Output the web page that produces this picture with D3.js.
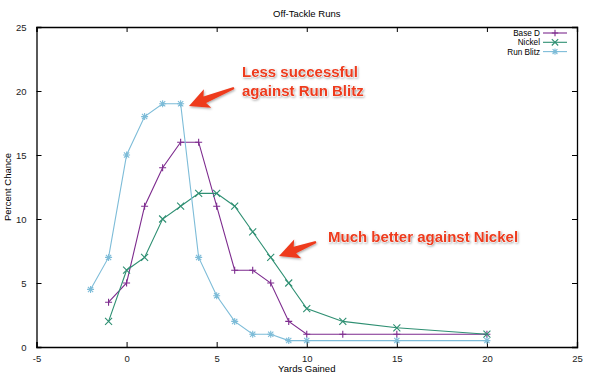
<!DOCTYPE html>
<html>
<head>
<meta charset="utf-8">
<script src="https://cdn.jsdelivr.net/npm/d3@7"></script>
<style>
  body { margin: 0; background: #fff; }
  text { font-family: "Liberation Sans", Arial, sans-serif; }
</style>
</head>
<body>
<div id="chart"></div>
<script>
// data
const yards = [-1, 0, 1, 2, 3, 4, 5, 6, 7, 8, 9, 10, 12, 15, 20];
const baseD = [3.5, 5, 11, 14, 16, 16, 11, 6, 6, 5, 2, 1, 1, 1, 1];
const nickel = [2, 6, 7, 10, 11, 12, 12, 11, 9, 7, 5, 3, 2, 1.5, 1];
const blitzYards = [-2, -1, 0, 1, 2, 3, 4, 5, 6, 7, 8, 9, 10, 15, 20];
const runBlitz = [4.5, 7, 15, 18, 19, 19, 7, 4, 2, 1, 1, 0.5, 0.5, 0.5, 0.5];
const seriesNames = ['Base D', 'Nickel', 'Run Blitz'];
const xTicks = [-5, 0, 5, 10, 15, 20, 25];
const yTicks = [0, 5, 10, 15, 20, 25];

const width = 601, height = 386;
const margin = {top: 27, right: 24, bottom: 39, left: 36.5};
const w = width - margin.left - margin.right;
const h = height - margin.top - margin.bottom;

const series = [
  {name: seriesNames[0], xs: yards, ys: baseD, color: '#7d2b8e', marker: 'plus'},
  {name: seriesNames[1], xs: yards, ys: nickel, color: '#2e8f72', marker: 'cross'},
  {name: seriesNames[2], xs: blitzYards, ys: runBlitz, color: '#7dbcd8', marker: 'star'}
];

const svg = d3.select('#chart').append('svg')
  .attr('width', width)
  .attr('height', height);

const x = d3.scaleLinear().domain([-5, 25]).range([0, w]);
const y = d3.scaleLinear().domain([0, 25]).range([h, 0]);

const g = svg.append('g')
  .attr('transform', `translate(${margin.left},${margin.top})`);

// axes, gnuplot style: ticks pointing inward, mirrored
const tickLen = 5;
const plain = d => String(d);
g.append('g')
  .attr('transform', `translate(0,${h})`)
  .call(d3.axisBottom(x).tickValues(xTicks).tickSize(-tickLen).tickPadding(8).tickFormat(plain));
g.append('g')
  .call(d3.axisTop(x).tickValues(xTicks).tickSize(-tickLen).tickFormat(''));
g.append('g')
  .call(d3.axisLeft(y).tickValues(yTicks).tickSize(-tickLen).tickPadding(10).tickFormat(plain));
g.append('g')
  .attr('transform', `translate(${w},0)`)
  .call(d3.axisRight(y).tickValues(yTicks).tickSize(-tickLen).tickFormat(''));

g.selectAll('.domain').attr('stroke', '#000').attr('stroke-width', 1.3);
g.selectAll('.tick line').attr('stroke', '#000');
g.selectAll('.tick text').attr('font-size', 9.5).attr('fill', '#222')
  .attr('font-family', '"Liberation Sans", Arial, sans-serif');

// titles
svg.append('text')
  .attr('x', margin.left + w / 2).attr('y', 17)
  .attr('text-anchor', 'middle').attr('font-size', 9.5)
  .text('Off-Tackle Runs');
svg.append('text')
  .attr('x', margin.left + w / 2).attr('y', 372)
  .attr('text-anchor', 'middle').attr('font-size', 9.5)
  .text('Yards Gained');
svg.append('text')
  .attr('transform', `translate(11,${margin.top + h / 2}) rotate(-90)`)
  .attr('text-anchor', 'middle').attr('font-size', 9.5)
  .text('Percent Chance');

function drawMarker(sel, type, color, s) {
  const path = {
    plus: `M${-s},0H${s}M0,${-s}V${s}`,
    cross: `M${-s},${-s}L${s},${s}M${-s},${s}L${s},${-s}`,
    star: `M${-s},0H${s}M0,${-s}V${s}M${-s * 0.75},${-s * 0.75}L${s * 0.75},${s * 0.75}M${-s * 0.75},${s * 0.75}L${s * 0.75},${-s * 0.75}`
  }[type];
  sel.append('path').attr('d', path).attr('stroke', color)
    .attr('stroke-width', 1.1).attr('fill', 'none');
}

const line = d3.line().x(d => x(d[0])).y(d => y(d[1]));

series.forEach(s => {
  const pts = s.xs.map((v, i) => [v, s.ys[i]]);
  g.append('path')
    .datum(pts)
    .attr('d', line)
    .attr('fill', 'none')
    .attr('stroke', s.color)
    .attr('stroke-width', 1.1);
  g.selectAll(null).data(pts).join('g')
    .attr('transform', d => `translate(${x(d[0])},${y(d[1])})`)
    .each(function () { drawMarker(d3.select(this), s.marker, s.color, 3.5); });
});

// legend
const legend = svg.append('g').attr('transform', 'translate(540,33)');
series.forEach((s, i) => {
  const row = legend.append('g').attr('transform', `translate(0,${i * 9.3})`);
  row.append('text').attr('x', 0).attr('y', 3)
    .attr('text-anchor', 'end').attr('font-size', 8.2).text(s.name);
  row.append('line').attr('x1', 3).attr('x2', 27).attr('y1', 0).attr('y2', 0)
    .attr('stroke', s.color).attr('stroke-width', 1.1);
  const m = row.append('g').attr('transform', 'translate(15,0)');
  drawMarker(m, s.marker, s.color, 3.2);
});

// annotations
const defs = svg.append('defs');
const filt = defs.append('filter').attr('id', 'shadow')
  .attr('x', '-20%').attr('y', '-20%').attr('width', '140%').attr('height', '140%');
filt.append('feDropShadow').attr('dx', 0.8).attr('dy', 1.2)
  .attr('stdDeviation', 0.9).attr('flood-color', '#000').attr('flood-opacity', 0.35);

const red = '#ee3a1d';

function arrow(x0, y0, x1, y1) {
  // tail (x0,y0) to tip (x1,y1)
  const dx = x1 - x0, dy = y1 - y0;
  const len = Math.hypot(dx, dy);
  const ux = dx / len, uy = dy / len;
  const px = -uy, py = ux;
  const headLen = 17, headW = 10, tailW = 1.2, neckW = 3.5;
  const bx = x1 - ux * headLen, by = y1 - uy * headLen;
  const pts = [
    [x0 + px * tailW, y0 + py * tailW],
    [bx + px * neckW, by + py * neckW],
    [bx + px * headW - ux * 3, by + py * headW - uy * 3],
    [x1, y1],
    [bx - px * headW - ux * 3, by - py * headW - uy * 3],
    [bx - px * neckW, by - py * neckW],
    [x0 - px * tailW, y0 - py * tailW]
  ];
  svg.append('path')
    .attr('d', 'M' + pts.map(p => p.join(',')).join('L') + 'Z')
    .attr('fill', red)
    .attr('filter', 'url(#shadow)');
}

function label(lines, x0, y0) {
  const t = svg.append('text')
    .attr('x', x0).attr('y', y0)
    .attr('font-size', 15).attr('font-weight', 'bold')
    .attr('fill', red)
    .attr('stroke', '#fff').attr('stroke-width', 0.6).attr('paint-order', 'stroke')
    .attr('filter', 'url(#shadow)');
  lines.forEach((l, i) => {
    t.append('tspan').attr('x', x0).attr('dy', i === 0 ? 0 : 19).text(l);
  });
}

arrow(234, 88, 189, 106);
label(['Less successful', 'against Run Blitz'], 242, 77);

arrow(316, 242, 279, 256);
label(['Much better against Nickel'], 328, 242);
</script>
</body>
</html>
